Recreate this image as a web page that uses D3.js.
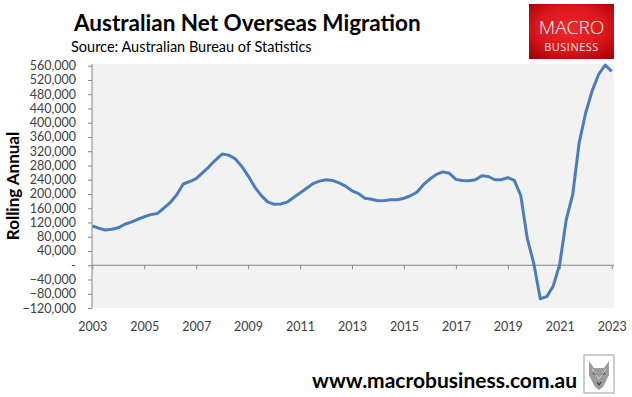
<!DOCTYPE html>
<html>
<head>
<meta charset="utf-8">
<script src="https://cdn.jsdelivr.net/npm/d3@7"></script>
<style>
  html, body { margin: 0; padding: 0; background: #fff; }
  svg { display: block; }
</style>
</head>
<body>
<svg id="chart"></svg>
<script>
// quarterly rolling annual NOM, first point 2003, last point 2023
const startYear = 2003
const nom = [
  110000, 104000, 99000, 101000,
  105000, 115000, 121000, 129000,
  136000, 142000, 145000, 160000,
  176000, 198000, 228000, 235000,
  243000, 260000, 277000, 296000,
  312000, 309000, 299000, 278000,
  251000, 220000, 196000, 178000,
  171000, 172000, 177000, 190000,
  203000, 216000, 229000, 236000,
  240000, 238000, 231000, 222000,
  209000, 201000, 188000, 185000,
  181000, 182000, 184000, 184000,
  188000, 195000, 205000, 226000,
  242000, 255000, 262000, 258000,
  241000, 238000, 237000, 240000,
  251000, 249000, 240000, 240000,
  246000, 238000, 195000, 75000,
  5000, -94000, -88000, -58000,
  3000, 128000, 199000, 345000,
  428000, 490000, 536000, 562000,
  544000
]
const xTicks = [2003, 2005, 2007, 2009, 2011, 2013, 2015, 2017, 2019, 2021, 2023]
const yTicks = d3.range(-120000, 560001, 40000)

const title = 'Australian Net Overseas Migration'
const source = 'Source: Australian Bureau of Statistics'
const yTitle = 'Rolling Annual'
const url = 'www.macrobusiness.com.au'

const width = 632
const height = 397
const font = 'Lato, "Open Sans", sans-serif'

const svg = d3.select('#chart').attr('width', width).attr('height', height)

const data = nom.map((v, i) => ({ t: startYear + i / 4, v }))

const x = d3.scaleLinear().domain([2003, 2023]).range([92.3, 611.7])
const y = d3.scaleLinear().domain([-120000, 560000]).range([308, 65.7])

// plot area background
svg.append('rect')
  .attr('x', 92).attr('y', 64)
  .attr('width', 522).attr('height', 244)
  .style('fill', '#f2f2f2')

// y axis
const yFmt = d => d === 0 ? '-' : d3.format(',')(d)
const yAxis = svg.append('g')
  .attr('transform', 'translate(92,0)')
  .call(d3.axisLeft(y).tickValues(yTicks).tickFormat(yFmt).tickSize(4).tickPadding(12))
yAxis.select('.domain').attr('d', `M0,64V308`).style('stroke', '#868686')
yAxis.selectAll('.tick line').style('stroke', '#868686')
yAxis.selectAll('.tick text')
  .style('font-family', font).style('font-size', '12.5px').style('fill', '#404040')

// x axis sits on zero, labels at the bottom of the plot
const xAxis = svg.append('g')
  .attr('transform', `translate(0,${y(0)})`)
  .call(d3.axisBottom(x).tickValues(xTicks).tickFormat(d3.format('d')).tickSize(4).tickSizeOuter(0))
xAxis.select('.domain').attr('d', 'M92,0H614').style('stroke', '#868686')
xAxis.selectAll('.tick line').style('stroke', '#868686')
xAxis.selectAll('.tick text')
  .attr('y', 327 - y(0))
  .attr('dy', '0.35em')
  .style('font-family', font).style('font-size', '12.5px').style('fill', '#404040')

// line
const line = d3.line().x(d => x(d.t)).y(d => y(d.v))
svg.append('path')
  .datum(data)
  .attr('d', line)
  .style('fill', 'none')
  .style('stroke', '#4a7ebb')
  .style('stroke-width', 3)
  .style('stroke-linejoin', 'round')

// titles
svg.append('text')
  .attr('x', 74).attr('y', 31)
  .style('font-family', font).style('font-weight', 'bold').style('font-size', '22.5px')
  .style('fill', '#000')
  .text(title)
svg.append('text')
  .attr('x', 71).attr('y', 52)
  .style('font-family', font).style('font-size', '14.5px')
  .style('fill', '#000')
  .text(source)

svg.append('text')
  .attr('transform', 'translate(19,186) rotate(-90)')
  .attr('text-anchor', 'middle')
  .style('font-family', font).style('font-weight', 'bold').style('font-size', '17px')
  .style('fill', '#000')
  .text(yTitle)

// MACRO BUSINESS logo
const defs = svg.append('defs')
const grad = defs.append('radialGradient').attr('id', 'logoGrad')
  .attr('cx', '50%').attr('cy', '45%').attr('r', '70%')
grad.append('stop').attr('offset', '0%').attr('stop-color', '#f0282c')
grad.append('stop').attr('offset', '60%').attr('stop-color', '#d8161c')
grad.append('stop').attr('offset', '100%').attr('stop-color', '#a30006')
svg.append('rect')
  .attr('x', 529).attr('y', 4).attr('width', 85).attr('height', 55)
  .style('fill', 'url(#logoGrad)')
svg.append('text')
  .attr('x', 571.5).attr('y', 34)
  .attr('text-anchor', 'middle')
  .style('font-family', '"Open Sans", sans-serif').style('font-weight', 300).style('font-size', '19px')
  .style('fill', '#fff')
  .text('MACRO')
svg.append('text')
  .attr('x', 571.5).attr('y', 51)
  .attr('text-anchor', 'middle')
  .style('font-family', '"Open Sans", sans-serif').style('font-size', '11px')
  .style('letter-spacing', '0.5px')
  .style('fill', '#ffe0e0')
  .text('BUSINESS')

// footer
svg.append('text')
  .attr('x', 577).attr('y', 388)
  .attr('text-anchor', 'end')
  .style('font-family', font).style('font-weight', 'bold').style('font-size', '21px')
  .style('fill', '#000')
  .text(url)

// small wolf badge
const wolf = svg.append('g').attr('transform', 'translate(584,355)')
wolf.append('rect').attr('width', 30).attr('height', 38)
  .style('fill', '#fff').style('stroke', '#9a9a9a').style('stroke-width', 1)
wolf.append('path')
  .attr('d', 'M5,6 L10,13 L20,13 L25,6 L25,20 L19,32 L15,35 L11,32 L5,20 Z')
  .style('fill', '#9c9c9c')
wolf.append('path')
  .attr('d', 'M9,18 L13,20 M21,18 L17,20 M13,27 L15,30 L17,27')
  .style('fill', 'none').style('stroke', '#3a3a3a').style('stroke-width', 1.2)
wolf.append('path')
  .attr('d', 'M8,14 L15,24 L22,14')
  .style('fill', 'none').style('stroke', '#d0d0d0').style('stroke-width', 1)
</script>
</body>
</html>
